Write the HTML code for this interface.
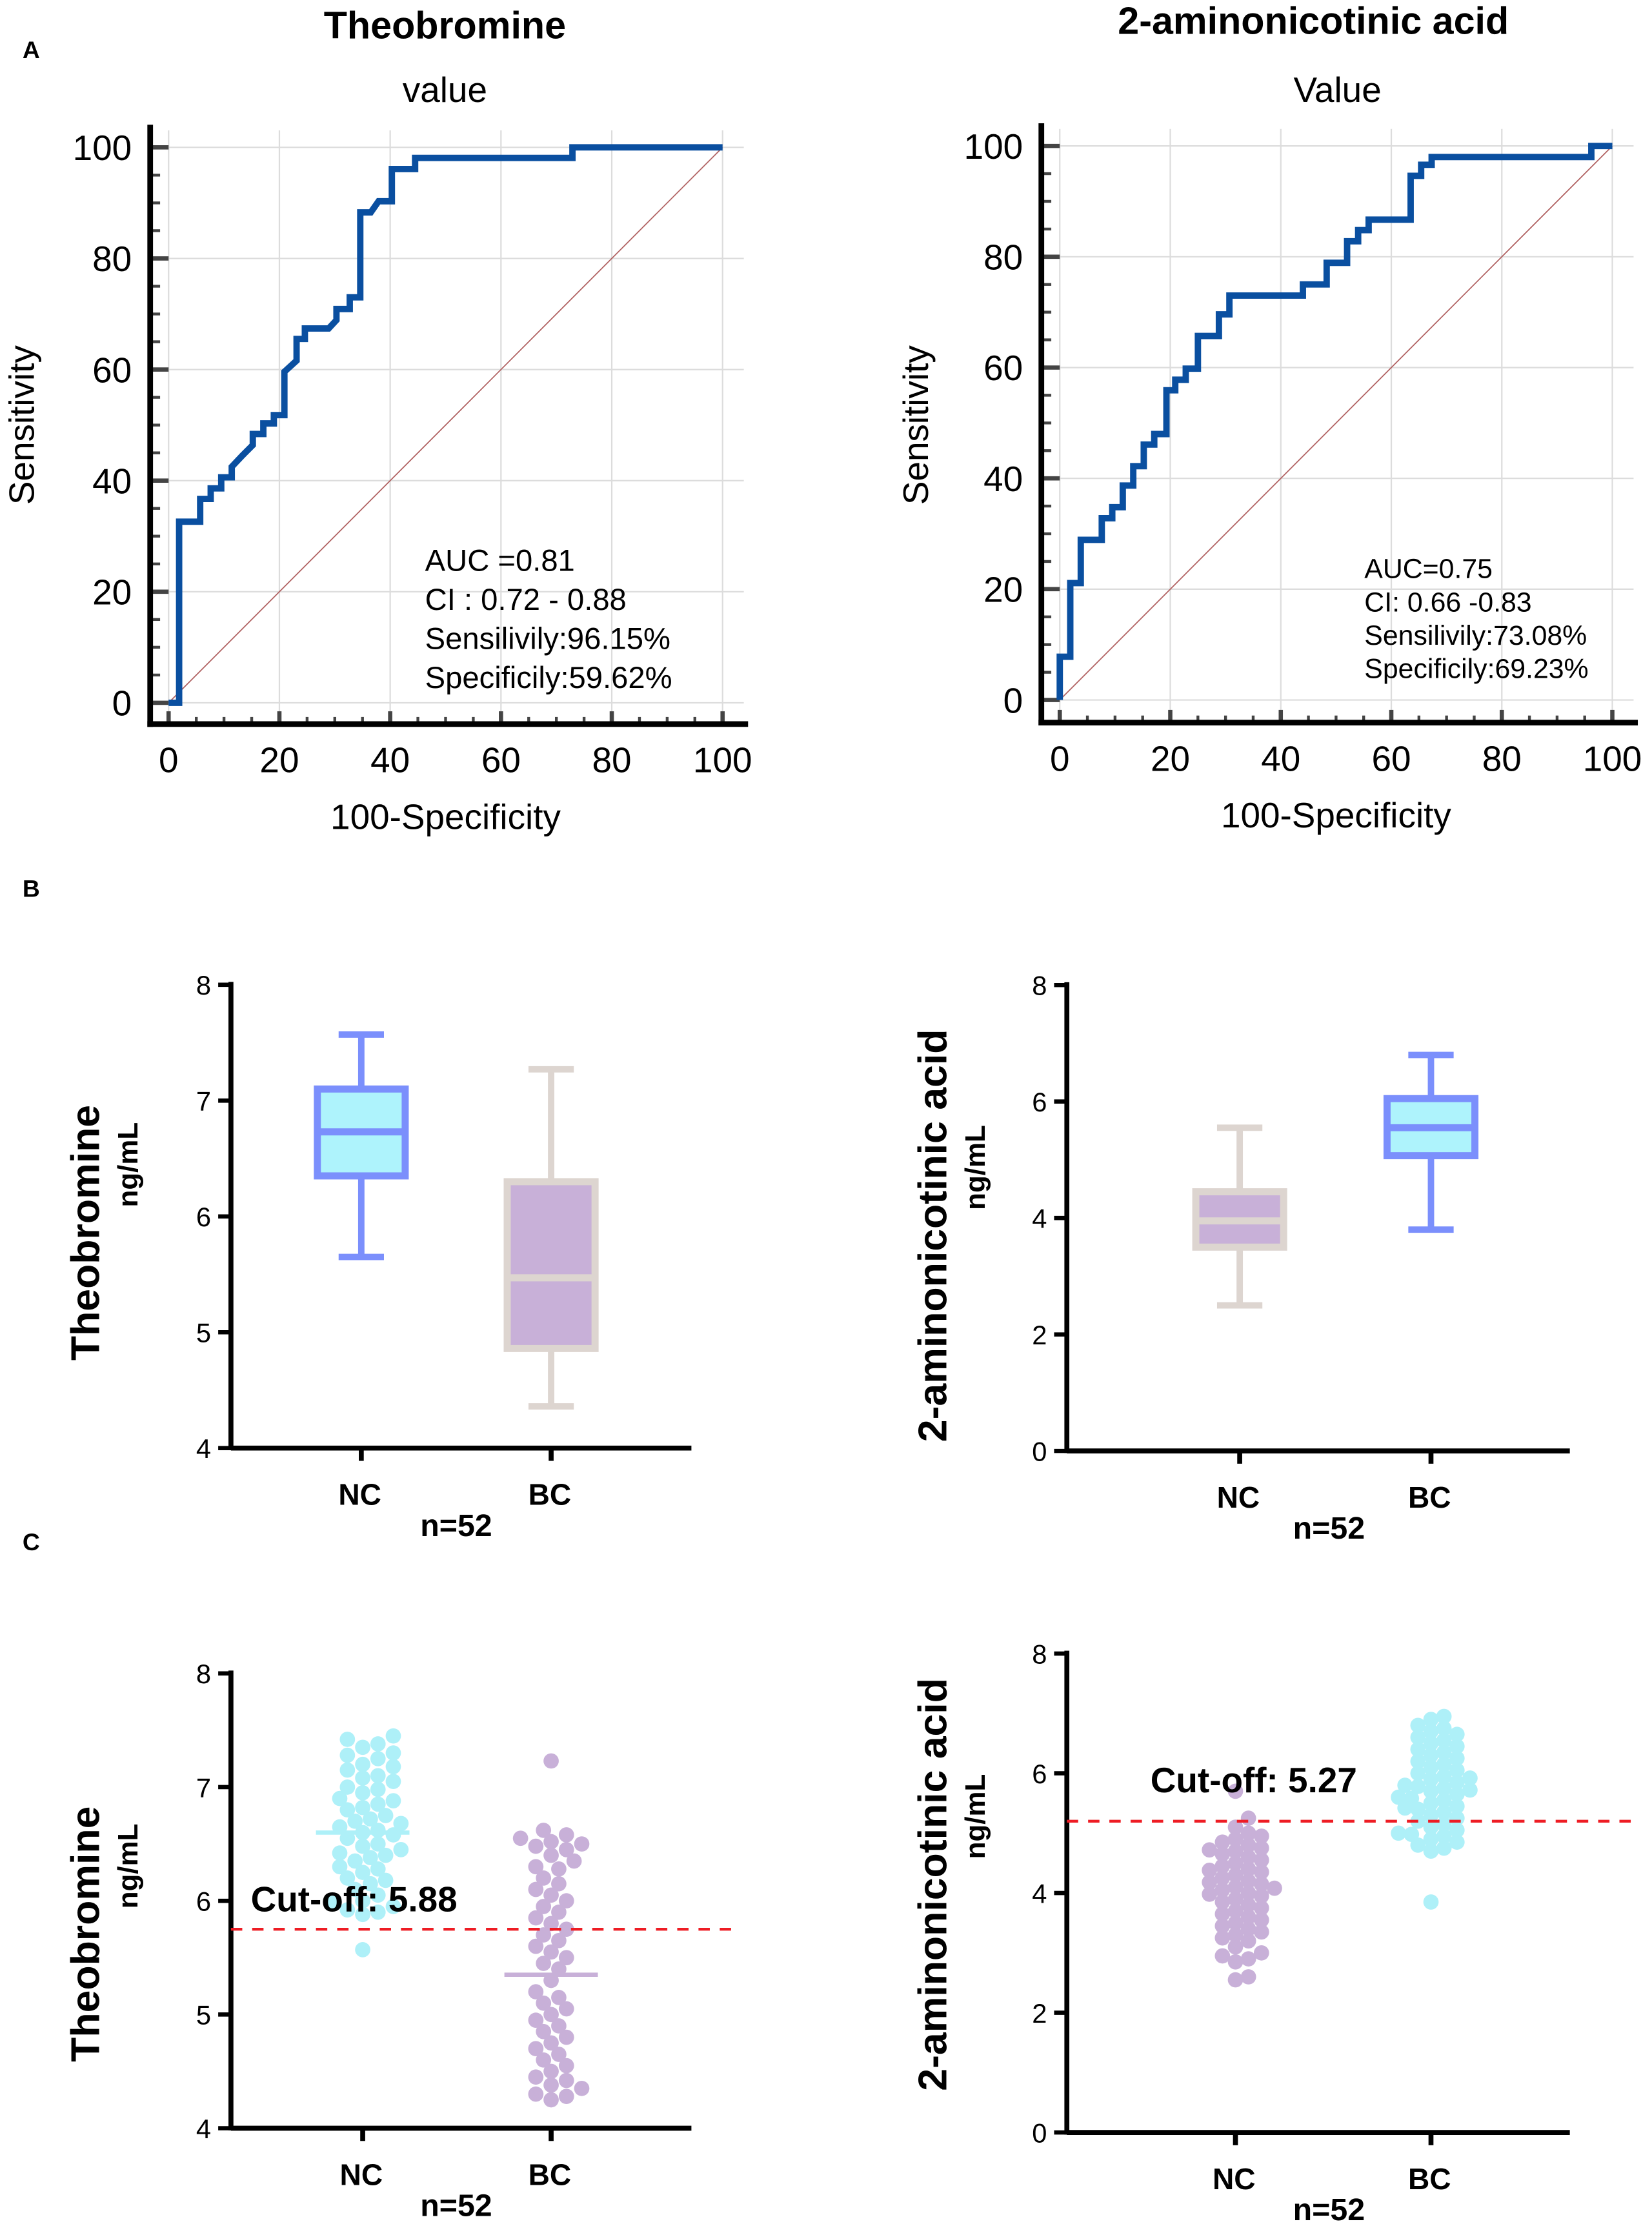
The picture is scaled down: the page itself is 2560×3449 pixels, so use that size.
<!DOCTYPE html>
<html><head><meta charset="utf-8"><style>
html,body{margin:0;padding:0;background:#fff;}
svg{display:block;}
text{font-family:"Liberation Sans",Arial,sans-serif;}
</style></head><body>
<svg id="fig" width="2560" height="3449" viewBox="0 0 1166 1571" preserveAspectRatio="none" xmlns="http://www.w3.org/2000/svg">
<rect width="1166" height="1571" fill="#fff"/>
<g id="root"></g>
</svg>
<script>
// ROC data
const rocTheoX=[0,1.9,1.9,5.7,5.7,7.6,7.6,9.5,9.5,11.4,11.4,13.3,15.2,15.2,17.1,17.1,19,19,20.9,20.9,23.1,23.1,24.6,24.6,28.9,30.3,30.3,32.7,32.7,34.6,34.6,36.5,37.9,40.3,40.3,44.5,44.5,72.9,72.9,100];
const rocTheoY=[0,0,32.6,32.6,36.7,36.7,38.6,38.6,40.6,40.6,42.5,44.5,46.4,48.4,48.4,50.3,50.3,51.8,51.8,59.6,61.6,65.5,65.5,67.4,67.4,68.9,70.9,70.9,73,73,88.3,88.3,90.3,90.3,96.1,96.1,98.1,98.1,100,100];
const rocAminoX=[0,0,1.9,1.9,3.8,3.8,7.6,7.6,9.5,9.5,11.4,11.4,13.3,13.3,15.2,15.2,17.1,17.1,19.3,19.3,20.9,20.9,22.8,22.8,25,25,28.8,28.8,30.7,30.7,44,44,48.3,48.3,52,52,54,54,55.9,55.9,63.5,63.5,65.4,65.4,67.3,67.3,96.2,96.2,100];
const rocAminoY=[0,7.8,7.8,21.1,21.1,28.9,28.9,32.8,32.8,34.8,34.8,38.7,38.7,42.2,42.2,46.1,46.1,48,48,55.9,55.9,57.8,57.8,59.8,59.8,65.7,65.7,69.6,69.6,73,73,75,75,78.9,78.9,82.8,82.8,84.8,84.8,86.7,86.7,94.6,94.6,96.6,96.6,98,98,100,100];
const rocTicks=[0,20,40,60,80,100];
// Box data [min,q1,median,q3,max]
const boxTheoNC=[5.65,6.35,6.73,7.1,7.57];
const boxTheoBC=[4.36,4.86,5.47,6.3,7.27];
const boxAminoNC=[2.5,3.5,3.95,4.45,5.55];
const boxAminoBC=[3.8,5.07,5.55,6.05,6.8];
const groups=["NC","BC"];
// Scatter data
const scTheoNC=[7.45,7.42,7.38,7.35,7.3,7.28,7.25,7.2,7.18,7.15,7.1,7.08,7.05,7.0,6.98,6.95,6.9,6.88,6.85,6.82,6.8,6.75,6.72,6.7,6.68,6.65,6.62,6.6,6.58,6.55,6.5,6.48,6.45,6.42,6.4,6.38,6.35,6.3,6.28,6.25,6.2,6.18,6.15,6.1,6.05,6.0,5.98,5.95,5.92,5.9,5.88,5.57];
const scTheoBC=[7.23,6.62,6.58,6.55,6.52,6.5,6.48,6.45,6.4,6.35,6.3,6.28,6.2,6.15,6.1,6.05,6.0,5.95,5.9,5.85,5.8,5.75,5.7,5.65,5.6,5.55,5.5,5.45,5.4,5.3,5.2,5.15,5.1,5.05,5.0,4.95,4.9,4.85,4.8,4.75,4.7,4.65,4.6,4.55,4.5,4.45,4.42,4.38,4.35,4.3,4.28,4.25];
const scAminoNC=[5.7,5.25,5.1,5.0,4.95,4.9,4.85,4.8,4.75,4.72,4.7,4.65,4.6,4.55,4.5,4.45,4.4,4.38,4.35,4.3,4.25,4.2,4.18,4.15,4.1,4.08,4.05,4.0,3.98,3.95,3.9,3.85,3.8,3.75,3.7,3.65,3.6,3.55,3.5,3.45,3.4,3.35,3.3,3.25,3.2,3.1,3.0,2.95,2.9,2.85,2.6,2.55];
const scAminoBC=[6.95,6.9,6.8,6.75,6.7,6.65,6.6,6.55,6.5,6.45,6.4,6.35,6.3,6.25,6.2,6.15,6.1,6.05,6.0,5.95,5.92,5.9,5.85,5.8,5.78,5.75,5.72,5.7,5.65,5.6,5.58,5.55,5.5,5.45,5.42,5.4,5.35,5.3,5.25,5.2,5.15,5.1,5.05,5.0,4.98,4.95,4.9,4.85,4.8,4.75,4.7,3.85];
const meanTheo=[6.6,5.35];
const cutTheo=5.75, cutAmino=5.2;
const theoTicks=[4,5,6,7,8], aminoTicks=[0,2,4,6,8];

const NS="http://www.w3.org/2000/svg";
const root=document.getElementById('root');
function el(tag,attrs,parent,txt){const e=document.createElementNS(NS,tag);for(const k in attrs)e.setAttribute(k,attrs[k]);if(txt!==undefined)e.textContent=txt;(parent||root).appendChild(e);return e;}
function txt(x,y,s,size,opts,name){const o=opts||{};const t=el('text',{x:x,y:y,'font-size':size,'text-anchor':o.anchor||'middle','font-weight':o.bold?'bold':'normal',fill:'#000'},o.parent,s);
if(o.rot)t.setAttribute('transform','rotate(-90 '+x+' '+y+')');

return t;}

txt(22,41,'A',17,{bold:true},'panel-label-a');
txt(22,633,'B',17,{bold:true},'panel-label-b');
txt(22,1094,'C',17,{bold:true},'panel-label-c');

function roc(cfg){
 const g=el('g',{});
 
 
 const sx=v=>cfg.x0+(cfg.x1-cfg.x0)*v/100, sy=v=>cfg.y0+(cfg.y1-cfg.y0)*v/100;
 rocTicks.forEach(t=>{
  el('line',{x1:sx(t),x2:sx(t),y1:cfg.y1-12,y2:cfg.axY,stroke:'#dcdcdc','stroke-width':1},g);
  el('line',{x1:cfg.axX,x2:cfg.x1+15,y1:sy(t),y2:sy(t),stroke:'#dcdcdc','stroke-width':1},g);
 });
 const d=el('line',{x1:sx(0),y1:sy(0),x2:sx(100),y2:sy(100),stroke:'#b06060','stroke-width':0.8},g);
 
 
 for(let v=0;v<=100;v+=5){
  const maj=v%20===0;
  el('line',{x1:sx(v),x2:sx(v),y1:cfg.axY-(maj?9:5),y2:cfg.axY,stroke:'#444','stroke-width':maj?3:2},g);
  el('line',{x1:cfg.axX,x2:cfg.axX+(maj?13:7),y1:sy(v),y2:sy(v),stroke:'#444','stroke-width':maj?3:2},g);
 }
 el('line',{x1:cfg.axX,x2:cfg.axX,y1:cfg.y1-16,y2:cfg.axY+2,stroke:'#000','stroke-width':4},g);
 el('line',{x1:cfg.axX-2,x2:cfg.x1+18,y1:cfg.axY,y2:cfg.axY,stroke:'#000','stroke-width':4},g);
 const pts=cfg.xs.map((x,i)=>sx(x)+','+sy(cfg.ys[i])).join(' ');
 const c=el('polyline',{points:pts,fill:'none',stroke:'#0a4fa0','stroke-width':4.5,'stroke-linejoin':'miter'},g);
 
 
 rocTicks.forEach(t=>{
  txt(sx(t),cfg.axY+34,String(t),25,{parent:g},'x-tick-label');
  txt(cfg.axX-13,sy(t)+9,String(t),25,{parent:g,anchor:'end'},'y-tick-label');
 });
 txt((cfg.x0+cfg.x1)/2,cfg.axY+74,'100-Specificity',25,{parent:g},'x-axis-title');
 txt(cfg.ylabX,300,'Sensitivity',25,{parent:g,rot:true},'y-axis-title');
 txt(cfg.titleX,cfg.titleY,cfg.title,27,{parent:g,bold:true},'chart-title');
 txt(cfg.subX,72,cfg.sub,25,{parent:g},'chart-subtitle');
 cfg.stats.forEach((s,i)=>txt(cfg.statX,cfg.statY+i*cfg.statDy,s,cfg.statSize,{parent:g,anchor:'start'},'stats-text'));
}
roc({name:'roc-theobromine',x0:119,x1:510,y0:496,y1:104,axX:106,axY:511,xs:rocTheoX,ys:rocTheoY,ylabX:24,title:'Theobromine',titleX:314,titleY:27,sub:'value',subX:314,
 stats:['AUC =0.81','CI : 0.72 - 0.88','Sensilivily:96.15%','Specificily:59.62%'],statX:300,statY:403,statDy:27.5,statSize:21.5});
roc({name:'roc-2-aminonicotinic-acid',x0:748,x1:1138,y0:494,y1:103,axX:735,axY:510,xs:rocAminoX,ys:rocAminoY,ylabX:655,title:'2-aminonicotinic acid',titleX:927,titleY:24,sub:'Value',subX:944,
 stats:['AUC=0.75','CI: 0.66 -0.83','Sensilivily:73.08%','Specificily:69.23%'],statX:963,statY:408,statDy:23.5,statSize:19.5});

const colNC={stroke:'#7b8ffc',fill:'#aef3fc'}, colBC={stroke:'#ddd5d0',fill:'#c8b0d8'};

function axesCat(g,cfg){
 cfg.ticks.forEach(t=>{
  el('line',{x1:cfg.axX-9,x2:cfg.axX,y1:cfg.sy(t),y2:cfg.sy(t),stroke:'#000','stroke-width':3},g);
  txt(cfg.axX-14,cfg.sy(t)+7,String(t),19,{parent:g,anchor:'end'},'y-tick-label');
 });
 el('line',{x1:cfg.axX,x2:cfg.axX,y1:cfg.sy(cfg.ticks[cfg.ticks.length-1])-2,y2:cfg.axY+1.5,stroke:'#000','stroke-width':3.5},g);
 el('line',{x1:cfg.axX,x2:cfg.xEnd,y1:cfg.axY,y2:cfg.axY,stroke:'#000','stroke-width':3.5},g);
 groups.forEach((gname,i)=>{
  el('line',{x1:cfg.cx[i],x2:cfg.cx[i],y1:cfg.axY,y2:cfg.axY+9,stroke:'#000','stroke-width':3.5},g);
  txt(cfg.cx[i]-1,cfg.axY+40,gname,21,{parent:g,bold:true},'x-category-label');
 });
 txt(cfg.nX,cfg.axY+62,'n=52',22,{parent:g,bold:true},'sample-size-label');
 txt(cfg.ylX,cfg.ylY,cfg.ytitle,28.5,{parent:g,bold:true,rot:true},'y-axis-title');
 txt(cfg.ylX+27,cfg.ylY-48,'ng/mL',20,{parent:g,bold:true,rot:true},'y-axis-unit');
}

function boxplot(cfg){
 const g=el('g',{});
 
 
 axesCat(g,cfg);
 cfg.boxes.forEach((b,i)=>{
  const c=cfg.cols[i], x=cfg.cx[i], w=62, sy=cfg.sy;
  const bg=el('g',{},g);
  
  
  el('line',{x1:x,x2:x,y1:sy(b[0]),y2:sy(b[4]),stroke:c.stroke,'stroke-width':4.5},bg);
  el('line',{x1:x-16,x2:x+16,y1:sy(b[0]),y2:sy(b[0]),stroke:c.stroke,'stroke-width':4.5},bg);
  el('line',{x1:x-16,x2:x+16,y1:sy(b[4]),y2:sy(b[4]),stroke:c.stroke,'stroke-width':4.5},bg);
  el('rect',{x:x-w/2,y:sy(b[3]),width:w,height:sy(b[1])-sy(b[3]),fill:c.fill,stroke:c.stroke,'stroke-width':5},bg);
  el('line',{x1:x-w/2,x2:x+w/2,y1:sy(b[2]),y2:sy(b[2]),stroke:c.stroke,'stroke-width':5},bg);
 });
}
const syTB=v=>1022-(v-4)*81.75, syAB=v=>1024-v*41.1;
boxplot({name:'boxplot-theobromine',axX:163,axY:1022,xEnd:488,cx:[255,389],ticks:theoTicks,sy:syTB,boxes:[boxTheoNC,boxTheoBC],cols:[colNC,colBC],nX:322,ytitle:'Theobromine',ylX:70,ylY:870});
boxplot({name:'boxplot-2-aminonicotinic-acid',axX:753,axY:1024,xEnd:1108,cx:[875,1010],ticks:aminoTicks,sy:syAB,boxes:[boxAminoNC,boxAminoBC],cols:[colBC,colNC],nX:938,ytitle:'2-aminonicotinic acid',ylX:668,ylY:872});

function swarm(vals,cx,sy,r,g,color,name,minF,step){
 const placed=[];const sorted=vals.slice().sort((a,b)=>a-b);
 sorted.forEach(v=>{
  const y=sy(v);let x=cx;
  for(let k=0;k<40;k++){
   const off=(k===0?0:Math.ceil(k/2)*(k%2?1:-1))*r*step;
   const tx=cx+off;
   if(placed.every(p=>(p[0]-tx)**2+(p[1]-y)**2>=(r*minF)**2)){x=tx;break;}
  }
  placed.push([x,y]);
  const c=el('circle',{cx:x,cy:y,r:r,fill:color},g);
  
  
 });
}
function scatter(cfg){
 const g=el('g',{});
 
 
 axesCat(g,cfg);
 cfg.sets.forEach((s,i)=>swarm(s,cfg.cx[i],cfg.sy,5.4,g,cfg.colors[i],'point-'+groups[i].toLowerCase(),cfg.minF,cfg.step));
 if(cfg.means){cfg.means.forEach((m,i)=>{const l=el('line',{x1:cfg.cx[i]-33,x2:cfg.cx[i]+33,y1:cfg.sy(m),y2:cfg.sy(m),stroke:cfg.colors[i],'stroke-width':3},g);
  
  });}
 const cl=el('line',{x1:cfg.axX,x2:cfg.cutEnd,y1:cfg.sy(cfg.cut),y2:cfg.sy(cfg.cut),stroke:'#ee1c24','stroke-width':2,'stroke-dasharray':'8,7'},g);
 
 
 txt(cfg.cutTX,cfg.cutTY,cfg.cutText,25,{parent:g,bold:true,anchor:'start'},'cutoff-label');
}
const syTC=v=>1502-(v-4)*80.25, syAC=v=>1505-v*42.25;
scatter({name:'scatter-theobromine',axX:163,axY:1502,xEnd:488,cx:[256,389],ticks:theoTicks,sy:syTC,sets:[scTheoNC,scTheoBC],colors:['#aef0f8','#c8b0d8'],means:meanTheo,cut:cutTheo,cutEnd:520,cutText:'Cut-off: 5.88',cutTX:177,cutTY:1349,nX:322,ytitle:'Theobromine',ylX:70,ylY:1365,minF:1.75,step:1.0});
scatter({name:'scatter-2-aminonicotinic-acid',axX:753,axY:1505,xEnd:1108,cx:[872,1010],ticks:aminoTicks,sy:syAC,sets:[scAminoNC,scAminoBC],colors:['#c8b0d8','#aef0f8'],cut:cutAmino,cutEnd:1152,cutText:'Cut-off: 5.27',cutTX:812,cutTY:1265,nX:938,ytitle:'2-aminonicotinic acid',ylX:668,ylY:1330,minF:1.5,step:0.85});
</script>
</body></html>
